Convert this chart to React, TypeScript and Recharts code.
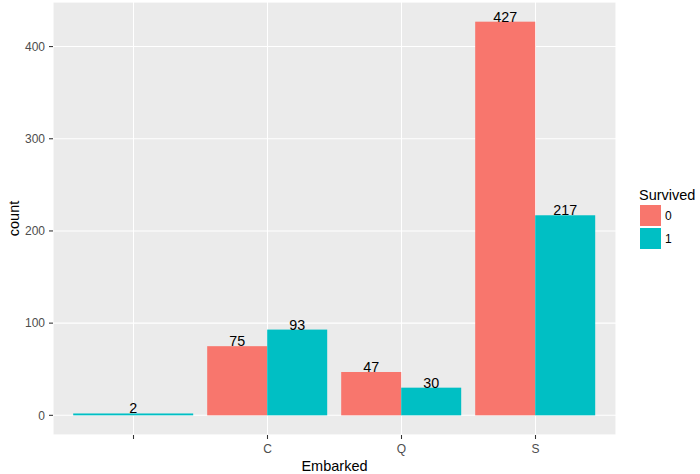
import React from "react";
import { BarChart, Bar, XAxis, YAxis, CartesianGrid, Legend, Label } from "recharts";

const categories = ["", "C", "Q", "S"];
const died: (number | null)[] = [null, 75, 47, 427];
const survived: (number | null)[] = [2, 93, 30, 217];
const yTicks = [0, 100, 200, 300, 400];
const yMinorTicks = [50, 150, 250, 350];
const yDomain: [number, number] = [-21.35, 448.35];
const seriesNames = ["0", "1"];
const seriesColors = ["#F8766D", "#00BFC4"];

const data = categories.map((name, i) => ({ name, died: died[i], survived: survived[i] }));

const FONT = "'Liberation Sans', Arial, Helvetica, sans-serif";

const barLabel = (cx: number, y: number, v: number) => (
  <text x={cx} y={y} textAnchor="middle" fontSize={14.3} fill="#000" fontFamily={FONT}>
    {v}
  </text>
);

const DiedShape = (props: any) => {
  const { x, y, width, height, payload, fill } = props;
  const v = payload?.died;
  if (v == null || !isFinite(y) || !isFinite(height)) return <g />;
  return (
    <g>
      <rect x={x} y={y} width={width} height={height} fill={fill} />
      {barLabel(x + width / 2, y, v)}
    </g>
  );
};

const SurvivedShape = (props: any) => {
  const { x, y, width, height, payload, fill } = props;
  const v = payload?.survived;
  if (v == null || !isFinite(y) || !isFinite(height)) return <g />;
  const solo = payload?.died == null;
  const x0 = solo ? x - width : x;
  const w = solo ? width * 2 : width;
  return (
    <g>
      <rect x={x0} y={y} width={w} height={height} fill={fill} />
      {barLabel(x0 + w / 2, y, v)}
    </g>
  );
};

const CountLabel = (props: any) => {
  const vb = props.viewBox || {};
  const cy = (vb.y ?? 2) + (vb.height ?? 433) / 2;
  const bx = 18.5;
  return (
    <text
      x={bx}
      y={cy}
      transform={`rotate(-90, ${bx}, ${cy})`}
      textAnchor="middle"
      fontSize={14.5}
      fill="#000"
      fontFamily={FONT}
    >
      count
    </text>
  );
};

const EmbarkedLabel = (props: any) => {
  const vb = props.viewBox || {};
  const cx = (vb.x ?? 53) + (vb.width ?? 563) / 2;
  return (
    <text x={cx} y={471} textAnchor="middle" fontSize={14.5} fill="#000" fontFamily={FONT}>
      Embarked
    </text>
  );
};

const LegendContent = () => (
  <svg width={72} height={70} style={{ display: "block", overflow: "visible" }}>
    <text x={11} y={15} fontSize={14.5} fill="#000" fontFamily={FONT}>
      Survived
    </text>
    {seriesNames.map((n, i) => (
      <g key={n}>
        <rect x={12} y={20 + i * 23} width={21} height={21} fill={seriesColors[i]} />
        <text x={37} y={20 + i * 23 + 15} fontSize={12} fill="#000" fontFamily={FONT}>
          {n}
        </text>
      </g>
    ))}
  </svg>
);

export default function App() {
  return (
    <div style={{ position: "absolute", left: 0, top: 0, width: 700, height: 474, background: "#fff", fontFamily: FONT }}>
      <BarChart
        width={700}
        height={474}
        data={data}
        margin={{ top: 2, right: 84, bottom: 0, left: 0 }}
        barCategoryGap="5%"
        barGap={0}
      >
        <CartesianGrid fill="#EBEBEB" stroke="#FFFFFF" strokeWidth={1.07} />
        <CartesianGrid yAxisId="minor" vertical={false} stroke="#FFFFFF" strokeWidth={0.53} />
        <XAxis
          dataKey="name"
          type="category"
          padding={{ left: 13.5, right: 13.5 }}
          height={39}
          axisLine={false}
          tickSize={4}
          tickMargin={5}
          tickLine={{ stroke: "#333333", strokeWidth: 1.07 }}
          tick={{ fill: "#4D4D4D", fontSize: 12, fontFamily: FONT }}
          interval={0}
          label={<Label content={EmbarkedLabel} />}
        />
        <YAxis
          type="number"
          domain={yDomain}
          ticks={yTicks}
          width={53}
          axisLine={false}
          tickSize={4}
          tickMargin={4}
          tickLine={{ stroke: "#333333", strokeWidth: 1.07 }}
          tick={{ fill: "#4D4D4D", fontSize: 12, fontFamily: FONT }}
          interval={0}
          label={<Label content={CountLabel} />}
        />
        <YAxis yAxisId="minor" type="number" domain={yDomain} ticks={yMinorTicks} hide />
        <Legend
          layout="vertical"
          align="center"
          verticalAlign="middle"
          content={LegendContent}
          wrapperStyle={{ left: 628, top: 185, width: 72, height: 70 }}
        />
        <Bar dataKey="died" name="0" fill={seriesColors[0]} shape={DiedShape} isAnimationActive={false} />
        <Bar dataKey="survived" name="1" fill={seriesColors[1]} shape={SurvivedShape} isAnimationActive={false} />
      </BarChart>
    </div>
  );
}
